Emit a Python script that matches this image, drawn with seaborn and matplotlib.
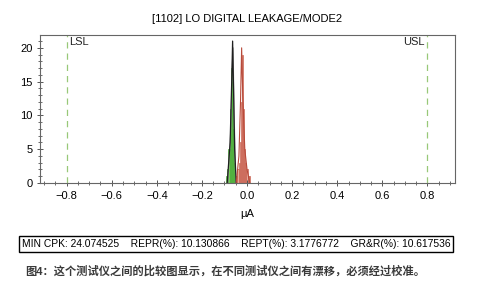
import matplotlib
matplotlib.use("Agg")
import matplotlib.pyplot as plt
from matplotlib.ticker import MultipleLocator
import seaborn as sns
import pandas as pd
import numpy as np

title = "[1102] LO DIGITAL LEAKAGE/MODE2"
xlabel = "μA"
stats_text = "MIN CPK: 24.074525    REPR(%): 10.130866    REPT(%): 3.1776772    GR&R(%): 10.617536"
caption = "图4：这个测试仪之间的比较图显示，在不同测试仪之间有漂移，必须经过校准。"

lsl = -0.8
usl = 0.8

# tester A (green) histogram
green_bins = [-0.090, -0.085, -0.080, -0.075, -0.070, -0.065, -0.060, -0.055, -0.050]
green_counts = [1, 2, 5, 11, 17, 15, 8, 3, 1]
# tester B (red) histogram
red_bins = [-0.045, -0.040, -0.035, -0.030, -0.025, -0.020, -0.015, -0.010, -0.005, 0.000, 0.005, 0.010]
red_counts = [1, 2, 3, 6, 12, 19, 11, 5, 3, 2, 1, 1]
# frequency outlines
black_x = [-0.088, -0.075, -0.068, -0.064, -0.060, -0.055, -0.048]
black_y = [0, 6, 15, 21, 14, 5, 0]
gray_x = [-0.085, -0.072, -0.066, -0.062, -0.057, -0.050]
gray_y = [0, 8, 17, 20, 10, 0]
red_x = [-0.048, -0.036, -0.029, -0.024, -0.019, -0.010, 0.000, 0.012]
red_y = [0, 4, 12, 20, 13, 5, 2, 0]

plt.rcParams['font.family'] = ['Liberation Sans', 'Noto Sans CJK SC', 'DejaVu Sans']

fig = plt.figure(figsize=(4.91, 2.96), dpi=100)
ax = fig.add_axes([40/491, 1-183/296, 415/491, 148/296])

bw = 0.005
gdf = pd.DataFrame({"x": green_bins, "w": green_counts})
rdf = pd.DataFrame({"x": red_bins, "w": red_counts})
sns.histplot(data=rdf, x="x", weights="w", binwidth=bw, binrange=(-0.0475, 0.0125),
             color="#e4a090", edgecolor="#c86050", linewidth=0.5, alpha=0.9, ax=ax)
sns.histplot(data=gdf, x="x", weights="w", binwidth=bw, binrange=(-0.0925, -0.0475),
             color="#6ccf4c", edgecolor="#48a838", linewidth=0.5, alpha=0.95, ax=ax)
sns.lineplot(x=gray_x, y=gray_y, color="#909090", linewidth=0.8, ax=ax)
sns.lineplot(x=black_x, y=black_y, color="#202020", linewidth=0.9, ax=ax)
sns.lineplot(x=red_x, y=red_y, color="#b84a3a", linewidth=0.8, ax=ax)

for v in (lsl, usl):
    ax.axvline(v, color="#98c878", linestyle=(0, (5, 4)), linewidth=0.9)
ax.text(lsl + 0.012, 21.6, "LSL", fontsize=8, va="top", ha="left", color="#222222")
ax.text(usl - 0.012, 21.6, "USL", fontsize=8, va="top", ha="right", color="#222222")

ax.set_xlim(-0.918, 0.922)
ax.set_ylim(0, 21.9)
ax.set_xticks([-0.8, -0.6, -0.4, -0.2, 0.0, 0.2, 0.4, 0.6, 0.8])
ax.set_xticklabels(["−0.8", "−0.6", "−0.4", "−0.2", "0.0", "0.2", "0.4", "0.6", "0.8"])
ax.set_yticks([0, 5, 10, 15, 20])
ax.xaxis.set_minor_locator(MultipleLocator(0.05))
ax.yaxis.set_minor_locator(MultipleLocator(1))
ax.tick_params(axis="both", which="major", labelsize=8, length=4, width=0.7, color="#555555", direction="inout")
ax.tick_params(axis="both", which="minor", length=2.5, width=0.6, color="#555555", direction="inout")
ax.set_xlabel(xlabel, fontsize=8, labelpad=6)
ax.set_ylabel("")
ax.set_title(title, fontsize=8, pad=9)
for s in ax.spines.values():
    s.set_color("#666666")
    s.set_linewidth(0.8)

fig.text(22/491, 1-244/296, stats_text, fontsize=7.35, va="center", ha="left",
         bbox=dict(boxstyle="square,pad=0.25", facecolor="white", edgecolor="black", linewidth=1.0))
fig.text(25/491, 1-271/296, caption, fontsize=8.1, va="center", ha="left",
         fontweight="bold", color="#3a3a3a")

fig.savefig("out.png", dpi=100)
